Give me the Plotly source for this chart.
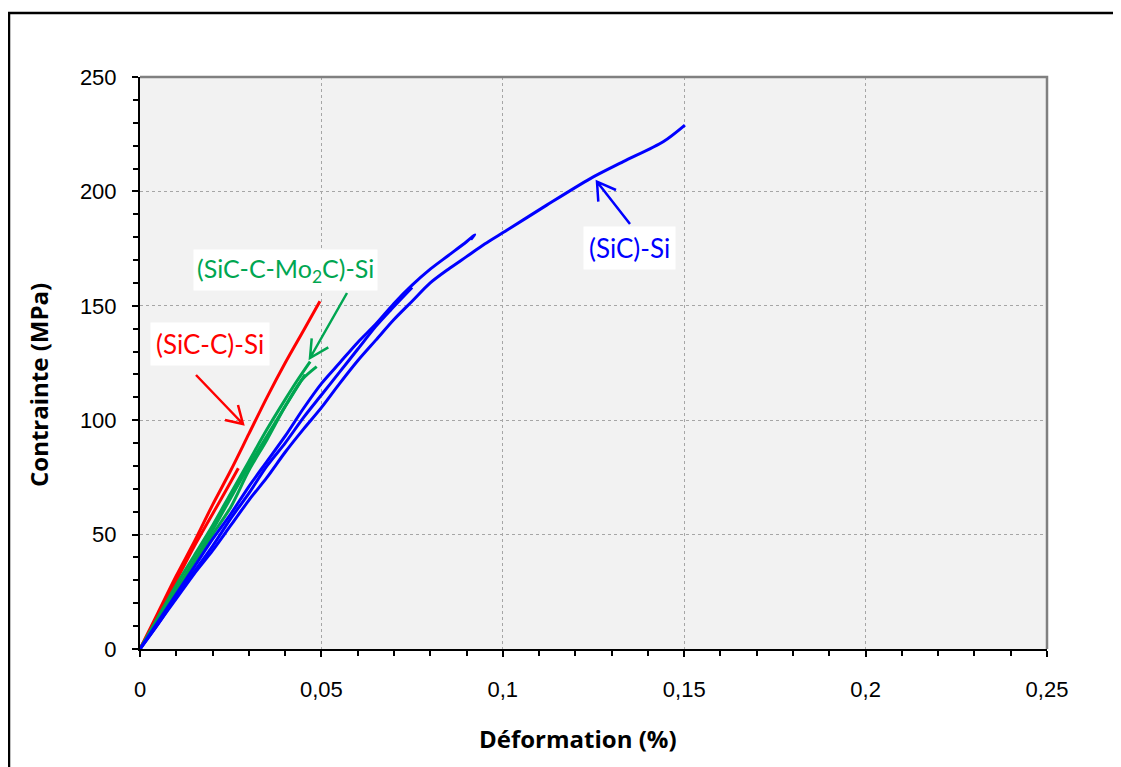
import plotly.graph_objects as go

# ---------------- data (strain in %, stress in MPa) ----------------
red_1_x = [0, 0.005, 0.01, 0.015, 0.02, 0.025, 0.03, 0.035, 0.04, 0.045, 0.0496]
red_1_y = [0, 16, 32, 47, 63, 78, 94, 110, 125, 139, 152]
red_2_x = [0, 0.005, 0.01, 0.015, 0.02, 0.025, 0.0271]
red_2_y = [0, 15, 30, 45, 59, 73, 79]

green_1_x = [0, 0.005, 0.01, 0.015, 0.02, 0.025, 0.03, 0.035, 0.04, 0.0432, 0.0469]
green_1_y = [0, 14, 28, 41, 54, 68, 82, 96, 109, 117, 125.6]
green_2_x = [0, 0.005, 0.01, 0.015, 0.02, 0.025, 0.03, 0.035, 0.04, 0.0446, 0.0487]
green_2_y = [0, 13, 25, 38, 50, 62, 78, 91.5, 106, 117.6, 123.4]
green_3_x = [0, 0.01, 0.02, 0.03, 0.04, 0.0455]
green_3_y = [0, 26, 52, 80, 106, 120]

blue_1_x = [0, 0.005, 0.01, 0.015, 0.02, 0.025, 0.03, 0.035, 0.04, 0.045, 0.05, 0.055,
            0.06, 0.065, 0.07, 0.075, 0.08, 0.085, 0.09, 0.0923, 0.0912]
blue_1_y = [0, 12, 24, 36, 48, 59, 71, 82, 93, 105, 116, 125,
            134, 142, 151, 159, 166, 172, 178, 181, 179]
blue_2_x = [0, 0.005, 0.01, 0.015, 0.02, 0.025, 0.03, 0.035, 0.04, 0.045, 0.05, 0.055,
            0.06, 0.065, 0.069, 0.075]
blue_2_y = [0, 11, 23, 34, 45, 57, 68, 80, 90, 101, 111, 121, 131, 141, 148, 158]
blue_3_x = [0, 0.005, 0.01, 0.015, 0.02, 0.025, 0.03, 0.035, 0.04, 0.045, 0.05, 0.055,
            0.06, 0.065, 0.07, 0.075, 0.08, 0.085, 0.09, 0.095, 0.1011, 0.1121, 0.124,
            0.1332, 0.1442, 0.1502]
blue_3_y = [0, 11, 22, 33, 43, 54, 65, 75, 86, 96, 105.5, 116, 126, 135, 144, 152,
            160, 166, 171.5, 177, 183, 194, 205.5, 213, 221.7, 229]

x_tick_vals = [0, 0.05, 0.1, 0.15, 0.2, 0.25]
x_tick_text = ["0", "0,05", "0,1", "0,15", "0,2", "0,25"]
y_tick_vals = [0, 50, 100, 150, 200, 250]

x_title = "Déformation (%)"
y_title = "Contrainte (MPa)"

RED = "#ff0000"
GREEN = "#00a651"
BLUE = "#0000ff"

# ---------------- geometry helpers ----------------
OFF = 8  # page body margin
W, H = 1121, 767
PL, PR, PT, PB = 140 - OFF, 1047 - OFF, 77 - OFF, 649 - OFF
XMAX, YMAX = 0.25, 250


def dx(px):
    return (px - OFF - PL) / (PR - PL) * XMAX


def dy(py):
    return (PB - (py - OFF)) / (PB - PT) * YMAX


def paper_x(px):
    return (px - OFF - PL) / (PR - PL)


def paper_y(py):
    return (PB - (py - OFF)) / (PB - PT)


fig = go.Figure()

series = [
    (red_1_x, red_1_y, RED), (red_2_x, red_2_y, RED),
    (green_1_x, green_1_y, GREEN), (green_2_x, green_2_y, GREEN), (green_3_x, green_3_y, GREEN),
    (blue_1_x, blue_1_y, BLUE), (blue_2_x, blue_2_y, BLUE), (blue_3_x, blue_3_y, BLUE),
]
for xs, ys, c in series:
    fig.add_trace(go.Scatter(x=xs, y=ys, mode="lines",
                             line=dict(color=c, width=3, shape="spline", smoothing=0.8),
                             showlegend=False, hoverinfo="skip"))

shapes = []
# arrows: (tail, tip, wing1, wing2) in reference pixels
arrows = [
    (RED, (196, 375), (243, 424), (238, 405), (225, 420)),
    (GREEN, (347, 293), (310, 358), (311.7, 338.3), (328.3, 347.3)),
    (BLUE, (630, 224), (597, 181.7), (598.3, 201.7), (616, 190)),
]
for c, tail, tip, w1, w2 in arrows:
    path = (f"M {dx(tail[0])},{dy(tail[1])} L {dx(tip[0])},{dy(tip[1])} "
            f"M {dx(w1[0])},{dy(w1[1])} L {dx(tip[0])},{dy(tip[1])} L {dx(w2[0])},{dy(w2[1])}")
    shapes.append(dict(type="path", xref="x", yref="y", path=path,
                       line=dict(color=c, width=2.5)))

# grey top/right border of plot area
shapes.append(dict(type="path", xref="paper", yref="paper",
                   path="M 0,1 L 1,1 L 1,0", line=dict(color="#808080", width=2.5),
                   layer="above"))
# outer chart frame (left + top visible)
shapes.append(dict(type="path", xref="paper", yref="paper",
                   path=f"M {paper_x(9)},{paper_y(800)} L {paper_x(9)},{paper_y(13)} L {paper_x(1160)},{paper_y(13)}",
                   line=dict(color="black", width=2.5)))

annotations = [
    dict(x=dx(210), y=dy(344), xref="x", yref="y", text="(SiC-C)-Si", showarrow=False,
         xanchor="center", yanchor="middle",
         font=dict(family="Lato", size=26, color=RED), bgcolor="white", borderpad=5),
    dict(x=dx(285), y=dy(270), xref="x", yref="y", text="(SiC-C-Mo<sub>2</sub>C)-Si",
         showarrow=False, xanchor="center", yanchor="middle",
         font=dict(family="Lato", size=25, color=GREEN), bgcolor="white", borderpad=3),
    dict(x=dx(629), y=dy(247.5), xref="x", yref="y", text="(SiC)-Si", showarrow=False,
         xanchor="center", yanchor="middle",
         font=dict(family="Lato", size=26, color=BLUE), bgcolor="white", borderpad=5),
    dict(x=paper_x(578), y=paper_y(738), xref="paper", yref="paper", text=f"<b>{x_title}</b>",
         showarrow=False, xanchor="center", yanchor="middle",
         font=dict(family="Open Sans", size=24, color="black")),
    dict(x=paper_x(38), y=paper_y(385), xref="paper", yref="paper", text=f"<b>{y_title}</b>",
         showarrow=False, textangle=-90, xanchor="center", yanchor="middle",
         font=dict(family="Open Sans", size=24, color="black")),
]

fig.update_layout(
    width=W, height=H,
    margin=dict(l=PL, r=W - PR, t=PT, b=H - PB),
    paper_bgcolor="white", plot_bgcolor="#f2f2f2",
    shapes=shapes, annotations=annotations,
    font=dict(family="Liberation Sans", size=21, color="black"),
)
fig.update_xaxes(range=[0, XMAX], tickvals=x_tick_vals, ticktext=x_tick_text,
                 showline=True, linecolor="black", linewidth=2,
                 ticks="outside", ticklen=6, tickcolor="black", tickwidth=1.5,
                 showgrid=True, gridcolor="#a6a6a6", griddash="dot", gridwidth=1,
                 minor=dict(dtick=0.01, ticks="outside", ticklen=5, tickcolor="black",
                            showgrid=False),
                 zeroline=False, ticklabelstandoff=14,
                 tickfont=dict(family="Liberation Sans", size=22))
fig.update_yaxes(range=[0, YMAX], tickvals=y_tick_vals,
                 showline=True, linecolor="black", linewidth=2,
                 ticks="outside", ticklen=6, tickcolor="black", tickwidth=1.5,
                 showgrid=True, gridcolor="#a6a6a6", griddash="dot", gridwidth=1,
                 minor=dict(dtick=10, ticks="outside", ticklen=5, tickcolor="black",
                            showgrid=False),
                 zeroline=False, ticklabelstandoff=11,
                 tickfont=dict(family="Liberation Sans", size=22))

fig.write_html("out.html")
